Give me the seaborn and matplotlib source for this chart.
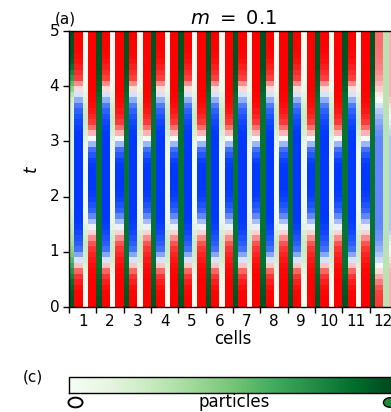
import numpy as np
import pandas as pd
import matplotlib
matplotlib.use("Agg")
import matplotlib.pyplot as plt
import seaborn as sns
from matplotlib.colors import LinearSegmentedColormap
from matplotlib.lines import Line2D
from matplotlib.markers import MarkerStyle
from matplotlib.transforms import Affine2D

# ---------------- data ----------------
cell_labels = [str(i) for i in range(1, 13)]
t_ticks = [0, 1, 2, 3, 4, 5]
t_step = 0.1   # rows at t = 0.05, 0.15, ..., 4.95

# electric field on the first link of each cell
link1 = [1.0, 1.0, 0.97, 0.9, 0.78, 0.6, 0.4, 0.15, -0.1, -0.3,
         -0.48, -0.62, -0.75, -0.85, -0.92, -0.97, -1.0, -1.0, -1.0, -1.0,
         -1.0, -1.0, -1.0, -1.0, -1.0, -1.0, -1.0, -1.0, -1.0, -1.0,
         -1.0, -0.97, -0.92, -0.85, -0.75, -0.6, -0.45, -0.28, -0.1, 0.1,
         0.3, 0.5, 0.65, 0.78, 0.88, 0.94, 0.98, 1.0, 1.0, 1.0]
# electric field on the second link of each cell
link2 = [1.0, 1.0, 1.0, 1.0, 1.0, 0.98, 0.95, 0.9, 0.82, 0.72,
         0.6, 0.45, 0.3, 0.12, -0.05, -0.22, -0.4, -0.58, -0.75, -0.88,
         -0.95, -1.0, -1.0, -1.0, -1.0, -0.97, -0.9, -0.7, -0.48, -0.25,
         -0.02, 0.2, 0.38, 0.55, 0.7, 0.82, 0.9, 0.95, 0.98, 1.0,
         1.0, 1.0, 1.0, 1.0, 1.0, 1.0, 1.0, 1.0, 1.0, 1.0]
# particle density on the first (filled) site of each cell
siteA = [0.95, 0.95, 0.94, 0.93, 0.92, 0.9, 0.88, 0.86, 0.85, 0.85,
         0.85, 0.85, 0.85, 0.85, 0.85, 0.85, 0.85, 0.85, 0.85, 0.85,
         0.85, 0.85, 0.85, 0.85, 0.85, 0.85, 0.85, 0.85, 0.85, 0.85,
         0.85, 0.85, 0.85, 0.85, 0.85, 0.85, 0.85, 0.86, 0.88, 0.9,
         0.92, 0.93, 0.94, 0.95, 0.95, 0.95, 0.95, 0.95, 0.95, 0.95]
# particle density on the second (empty) site of each cell
siteB = [0.02, 0.02, 0.02, 0.03, 0.05, 0.08, 0.12, 0.16, 0.2, 0.22,
         0.24, 0.24, 0.22, 0.18, 0.14, 0.1, 0.07, 0.05, 0.04, 0.04,
         0.04, 0.04, 0.04, 0.04, 0.04, 0.04, 0.04, 0.05, 0.07, 0.1,
         0.14, 0.18, 0.22, 0.24, 0.24, 0.22, 0.2, 0.16, 0.12, 0.08,
         0.05, 0.03, 0.02, 0.02, 0.02, 0.02, 0.02, 0.02, 0.02, 0.02]
# left boundary: first site of cell 1
first_siteA = [0.95, 0.95, 0.93, 0.9, 0.86, 0.8, 0.72, 0.64, 0.56, 0.48,
               0.42, 0.36, 0.32, 0.28, 0.25, 0.22, 0.2, 0.18, 0.16, 0.15,
               0.15, 0.15, 0.15, 0.15, 0.15, 0.15, 0.15, 0.15, 0.15, 0.15,
               0.15, 0.15, 0.15, 0.15, 0.15, 0.15, 0.16, 0.2, 0.3, 0.42,
               0.55, 0.68, 0.78, 0.86, 0.91, 0.94, 0.95, 0.95, 0.95, 0.95]
# right boundary: links and second site of cell 12
last_link1 = [0.55, 0.55, 0.52, 0.45, 0.35, 0.22, 0.1, -0.02, -0.12, -0.2,
              -0.27, -0.32, -0.36, -0.38, -0.4, -0.4, -0.4, -0.4, -0.4, -0.4,
              -0.4, -0.4, -0.4, -0.4, -0.4, -0.4, -0.4, -0.4, -0.4, -0.4,
              -0.4, -0.38, -0.35, -0.3, -0.25, -0.18, -0.1, -0.02, 0.06, 0.14,
              0.2, 0.26, 0.3, 0.33, 0.35, 0.36, 0.37, 0.38, 0.38, 0.38]
last_siteB = [0.3, 0.3, 0.3, 0.3, 0.3, 0.3, 0.3, 0.3, 0.3, 0.3,
              0.3, 0.3, 0.3, 0.3, 0.3, 0.3, 0.3, 0.3, 0.3, 0.3,
              0.3, 0.3, 0.3, 0.3, 0.3, 0.3, 0.3, 0.3, 0.3, 0.3,
              0.3, 0.3, 0.3, 0.3, 0.3, 0.3, 0.3, 0.3, 0.3, 0.3,
              0.3, 0.3, 0.3, 0.3, 0.3, 0.3, 0.3, 0.3, 0.3, 0.3]
last_link2 = [0.2, 0.2, 0.2, 0.2, 0.2, 0.2, 0.2, 0.15, 0.1, 0.05,
              0.0, -0.05, -0.1, -0.15, -0.2, -0.2, -0.2, -0.2, -0.2, -0.2,
              -0.2, -0.2, -0.2, -0.2, -0.2, -0.2, -0.2, -0.2, -0.2, -0.2,
              -0.2, -0.15, -0.1, -0.05, 0.0, 0.05, 0.1, 0.15, 0.2, 0.2,
              0.2, 0.2, 0.2, 0.2, 0.2, 0.2, 0.2, 0.2, 0.2, 0.2]

# ---------------- build matrices (10 sub-columns per cell) ----------------
# layout within a cell: site A (2), link 1 (3), site B (2), link 2 (3)
n_cells = len(cell_labels)
n_rows = len(link1)
SUB = 10
field = np.full((n_rows, SUB * n_cells), np.nan)
part = np.full((n_rows, SUB * n_cells), np.nan)


def put(mat, cell, cols, values):
    for k in cols:
        mat[:, SUB * cell + k] = values


for c in range(n_cells):
    put(part, c, [0, 1], siteA)
    put(field, c, [2, 3, 4], link1)
    put(part, c, [5, 6], siteB)
    put(field, c, [7, 8, 9], link2)
put(part, 0, [0, 1], first_siteA)
put(field, n_cells - 1, [2, 3, 4], last_link1)
put(part, n_cells - 1, [5, 6], last_siteB)
put(field, n_cells - 1, [7, 8, 9], last_link2)

field_df = pd.DataFrame(field[::-1])   # top row = largest t
part_df = pd.DataFrame(part[::-1])

efield_cmap = LinearSegmentedColormap.from_list(
    "efield", ["#0038ff", "#3a6bff", "#ffffff", "#ff4040", "#ff0000"])

W, H = 391, 412
fig = plt.figure(figsize=(W / 100, H / 100), dpi=100)
ax = fig.add_axes([69 / W, 1 - 307 / H, 328 / W, 276 / H])
cax = fig.add_axes([69 / W, 1 - 393 / H, 328 / W, 16 / H])

sns.heatmap(field_df, ax=ax, cmap=efield_cmap, vmin=-1, vmax=1, cbar=False)
sns.heatmap(part_df, ax=ax, cmap="Greens", vmin=0, vmax=1, cbar=True, cbar_ax=cax,
            cbar_kws={"orientation": "horizontal"})

t_top = n_rows * t_step
ax.set_yticks([(t_top - t) / t_step for t in t_ticks])
ax.set_yticklabels([str(t) for t in t_ticks], rotation=0, fontsize=11)
ax.set_xticks([SUB * c for c in range(n_cells + 1)])
ax.set_xticklabels([""] * (n_cells + 1))
ax.set_xticks([SUB * c + SUB / 2 for c in range(n_cells)], minor=True)
ax.set_xticklabels(cell_labels, minor=True, fontsize=11)
ax.tick_params(axis="x", which="minor", length=0, pad=5)
ax.tick_params(axis="x", which="major", length=4, width=1)
ax.tick_params(axis="y", length=4, width=1, pad=3)
for sp in ax.spines.values():
    sp.set_visible(True)
    sp.set_color("black")
    sp.set_linewidth(1)

ax.set_xlabel("cells", fontsize=12, labelpad=1)
ax.set_ylabel("$t$", fontsize=12, labelpad=6)
ax.set_title("$m\\ =\\ 0.1$", fontsize=14, pad=5)

cax.set_xticks([])
cax.set_yticks([])
cb = ax.collections[-1].colorbar
cb.outline.set_edgecolor("black")
cb.outline.set_linewidth(1)

fig.text(55 / W, 1 - 19 / H, "(a)", fontsize=11, ha="left", va="center")
fig.text(23 / W, 1 - 377 / H, "(c)", fontsize=11, ha="left", va="center")
fig.text(234 / W, 1 - 402 / H, "particles", fontsize=12, ha="center", va="center")
ell = Affine2D().scale(1.45, 1.0)
fig.add_artist(Line2D([75 / W], [1 - 402 / H],
                      marker=MarkerStyle("o", transform=ell), markersize=7,
                      markerfacecolor="white", markeredgecolor="black",
                      markeredgewidth=1.4, transform=fig.transFigure))
fig.add_artist(Line2D([390 / W], [1 - 402 / H],
                      marker=MarkerStyle("o", transform=ell), markersize=7,
                      markerfacecolor="#1e8a3a", markeredgecolor="black",
                      markeredgewidth=1.0, transform=fig.transFigure, clip_on=False))

fig.savefig("out.png", dpi=100)
